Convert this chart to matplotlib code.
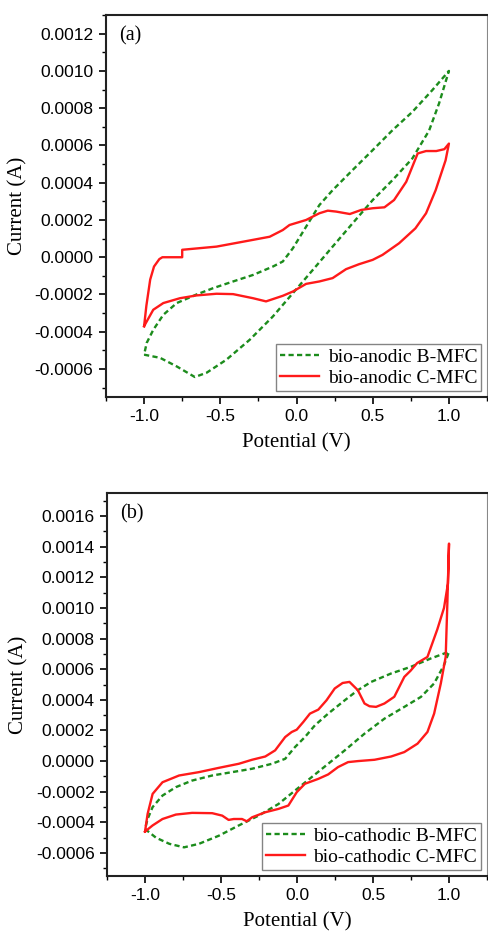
import matplotlib
matplotlib.use("Agg")
import matplotlib.pyplot as plt
from matplotlib.ticker import MultipleLocator, FormatStrFormatter

# ---------------- data: panel (a) ----------------
a_b_x = [-1.0, -0.895, -0.786, -0.667, -0.59, -0.46, -0.307, -0.155, -0.024, 0.107, 0.237, 0.368, 0.5,
         0.63, 0.76, 0.87, 0.935, 1.0,
         0.89, 0.76, 0.63, 0.5, 0.368, 0.237, 0.15, 0.063, -0.024, -0.09, -0.155, -0.285, -0.416,
         -0.547, -0.656, -0.786, -0.874, -0.94, -0.983, -1.0]
a_b_y = [-0.000523, -0.00054, -0.000586, -0.000643, -0.00062, -0.00055, -0.000443, -0.000318, -0.000193,
         -0.000068, 0.000057, 0.000182, 0.000307, 0.000414, 0.00053, 0.00068, 0.000825, 0.001,
         0.000896, 0.00078, 0.000682, 0.000575, 0.000468, 0.00036, 0.00028, 0.000164, 0.000048,
         -0.000023, -0.00005, -0.000095, -0.00013, -0.000166, -0.0002, -0.000246, -0.000309,
         -0.00039, -0.00046, -0.000523]

a_c_x = [-1.0, -0.985, -0.96, -0.935, -0.9, -0.88, -0.75, -0.75, -0.525, -0.307, -0.176, -0.09, -0.046,
         0.063, 0.15, 0.205, 0.26, 0.35, 0.425, 0.5, 0.577, 0.64, 0.72, 0.795, 0.85, 0.917, 0.97, 1.0,
         0.978, 0.913, 0.85, 0.78, 0.673, 0.564, 0.5, 0.41, 0.325, 0.237, 0.15, 0.063, -0.024, -0.09,
         -0.2, -0.285, -0.416, -0.525, -0.656, -0.765, -0.874, -0.94, -1.0]
a_c_y = [-0.00037, -0.00026, -0.00012, -0.00005, -0.00001, 0.0, 0.0, 0.00004, 0.000057, 0.00009, 0.00011,
         0.000146, 0.000173, 0.0002, 0.000236, 0.00025, 0.000245, 0.000232, 0.000254, 0.000263,
         0.000268, 0.000307, 0.000405, 0.000557, 0.00057, 0.00057, 0.00058, 0.00061,
         0.00052, 0.00036, 0.000236, 0.000155, 0.000075, 0.0000125, -0.000014, -0.0000375, -0.000064,
         -0.000112, -0.00013, -0.000143, -0.000184, -0.000207, -0.000237, -0.00022, -0.000198,
         -0.000196, -0.000205, -0.00022, -0.000246, -0.000282, -0.00037]

# ---------------- data: panel (b) ----------------
b_b_x = [-1.0, -0.928, -0.84, -0.743, -0.645, -0.514, -0.383, -0.253, -0.122, -0.013, 0.096, 0.205, 0.314,
         0.444, 0.575, 0.706, 0.815, 0.902, 0.967, 1.0,
         0.88, 0.75, 0.619, 0.488, 0.4, 0.314, 0.205, 0.118, 0.052, -0.013, -0.078, -0.165, -0.296,
         -0.427, -0.558, -0.69, -0.797, -0.885, -0.95, -0.983, -1.0]
b_b_y = [-0.000443, -0.0005, -0.00054, -0.000563, -0.00054, -0.000487, -0.00042, -0.000356, -0.00028,
         -0.000192, -0.000105, -0.0000175, 0.00007, 0.000179, 0.000277, 0.000354, 0.000419, 0.000507,
         0.000627, 0.000714,
         0.00067, 0.000616, 0.000572, 0.000517, 0.000463, 0.000397, 0.00031, 0.000234, 0.000157,
         0.000092, 0.000015, -0.0000175, -0.00005, -0.000072, -0.000094, -0.000127, -0.00017,
         -0.000225, -0.0003, -0.000378, -0.000443]

b_c_x = [-1.0, -0.983, -0.95, -0.885, -0.776, -0.645, -0.514, -0.383, -0.296, -0.209, -0.144, -0.078,
         -0.035, -0.002, 0.041, 0.085, 0.14, 0.194, 0.248, 0.3, 0.345, 0.4, 0.444, 0.477, 0.52, 0.575,
         0.64, 0.706, 0.747, 0.79, 0.858, 0.923, 0.967, 0.993, 1.0,
         0.995, 0.989, 0.978, 0.946, 0.902, 0.858, 0.793, 0.706, 0.619, 0.51, 0.4, 0.336, 0.27, 0.205,
         0.14, 0.052, -0.002, -0.057, -0.122, -0.209, -0.296, -0.33, -0.362, -0.416, -0.45, -0.492,
         -0.558, -0.69, -0.797, -0.885, -0.95, -1.0]
b_c_y = [-0.00046, -0.000345, -0.000214, -0.000138, -0.000094, -0.000072, -0.000044, -0.0000175,
         0.0000087, 0.00003, 0.00007, 0.000157, 0.00019, 0.000205, 0.000255, 0.00031, 0.000336,
         0.000397, 0.000474, 0.00051, 0.000517, 0.000463, 0.000376, 0.000358, 0.000354, 0.000376,
         0.00042, 0.00055, 0.00059, 0.00064, 0.00068, 0.00086, 0.001, 0.00116, 0.00142,
         0.00125, 0.00103, 0.00068, 0.000507, 0.00031, 0.00019, 0.000114, 0.000059, 0.00003, 0.0000087,
         0.0, -0.0000066, -0.000039, -0.000087, -0.000116, -0.000148, -0.000203, -0.00029, -0.000312,
         -0.000334, -0.000367, -0.000393, -0.000378, -0.000378, -0.000384, -0.000356, -0.00034,
         -0.000338, -0.000349, -0.000378, -0.00042, -0.00046]

panels = [
    dict(label="(a)", bx=a_b_x, by=a_b_y, cx=a_c_x, cy=a_c_y,
         bname="bio-anodic B-MFC", cname="bio-anodic C-MFC",
         ylim=(-0.00075, 0.0013), ymaj=0.0002, rect=[0.2172, 0.5777, 0.7808, 0.4063]),
    dict(label="(b)", bx=b_b_x, by=b_b_y, cx=b_c_x, cy=b_c_y,
         bname="bio-cathodic B-MFC", cname="bio-cathodic C-MFC",
         ylim=(-0.00075, 0.00175), ymaj=0.0002, rect=[0.2193, 0.0681, 0.7787, 0.4074]),
]

fig = plt.figure(figsize=(4.88, 9.40), dpi=100)
serif = "Liberation Serif"
sans = "Liberation Sans"

for p in panels:
    ax = fig.add_axes(p["rect"])
    ax.plot(p["bx"], p["by"], color="#1c8c1c", lw=1.7, ls=(0, (2.2, 1.4)), label=p["bname"])
    ax.plot(p["cx"], p["cy"], color="#ff1a1a", lw=1.7, label=p["cname"])
    ax.set_xlim(-1.25, 1.25)
    ax.set_ylim(*p["ylim"])
    ax.xaxis.set_major_locator(MultipleLocator(0.5))
    ax.xaxis.set_minor_locator(MultipleLocator(0.25))
    ax.yaxis.set_major_locator(MultipleLocator(p["ymaj"]))
    ax.yaxis.set_minor_locator(MultipleLocator(p["ymaj"] / 2))
    ax.xaxis.set_major_formatter(FormatStrFormatter("%.1f"))
    ax.yaxis.set_major_formatter(FormatStrFormatter("%.4f"))
    ax.tick_params(which="major", direction="out", length=5, width=1.2, labelsize=12.5, pad=4)
    ax.tick_params(which="minor", direction="out", length=3, width=1.0)
    ax.tick_params(top=False, right=False, which="both")
    for lab in ax.get_xticklabels() + ax.get_yticklabels():
        lab.set_fontfamily(sans)
    for s in ["left", "bottom", "top"]:
        ax.spines[s].set_linewidth(1.5)
        ax.spines[s].set_color("#222222")
    ax.spines["right"].set_linewidth(0.8)
    ax.spines["right"].set_color("#888888")
    ax.set_xlabel("Potential (V)", fontfamily=serif, fontsize=15, labelpad=6)
    ax.set_ylabel("Current (A)", fontfamily=serif, fontsize=15, labelpad=5)
    ax.text(0.035, 0.97, p["label"], transform=ax.transAxes, fontfamily=serif, fontsize=14.5,
            va="top", ha="left")
    leg = ax.legend(loc="lower right", prop={"family": serif, "size": 14}, frameon=True,
                    fancybox=False, edgecolor="#666666", handlelength=2.0, handletextpad=0.45,
                    borderpad=0.2, labelspacing=0.2, borderaxespad=0.3)
    leg.get_frame().set_linewidth(1.0)

fig.savefig("out.png", dpi=100)
